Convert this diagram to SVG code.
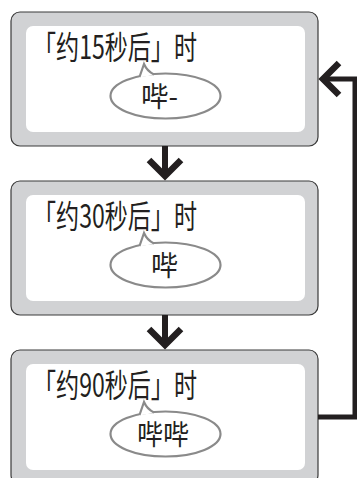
<svg xmlns="http://www.w3.org/2000/svg" width="357" height="478" viewBox="0 0 357 478">
<style>
.outer{fill:#d1d2d4;stroke:#3a3a3a;stroke-width:1.2}
.inner{fill:#ffffff}
.lbl{font-family:"Noto Sans CJK SC","Noto Sans",sans-serif;font-size:32px;fill:#231f20}
.snd{font-family:"Noto Sans CJK SC","Noto Sans",sans-serif;font-size:28px;fill:#231f20}
.bub{fill:#ffffff;stroke:#8a8a8a;stroke-width:2.2}
.conn{fill:none;stroke:#231f20;stroke-linejoin:miter;stroke-miterlimit:10}
</style>
<defs>
<g id="bubble">
<ellipse class="bub" cx="165.5" cy="96" rx="55" ry="22.5"/>
<path d="M139,77.5 L144,64 Q147,71 154,75" fill="#ffffff" stroke="none"/>
<path d="M139.5,77 L144,64 Q147,71 154,74.5" fill="none" stroke="#8a8a8a" stroke-width="2.2" stroke-linejoin="miter"/>
</g>
</defs>
<g id="node1">
<rect class="outer" x="11" y="12" width="307" height="134" rx="9"/>
<rect class="inner" x="26" y="26" width="279" height="106" rx="7"/>
<text class="lbl" x="33" y="59" textLength="164" lengthAdjust="spacingAndGlyphs">「约15秒后」时</text>
<use href="#bubble"/>
<text class="snd" x="141" y="107" textLength="37" lengthAdjust="spacingAndGlyphs">哔-</text>
</g>
<g id="node2">
<rect class="outer" x="11" y="181" width="307" height="134" rx="9"/>
<rect class="inner" x="26" y="195" width="279" height="106" rx="7"/>
<text class="lbl" x="33" y="228" textLength="164" lengthAdjust="spacingAndGlyphs">「约30秒后」时</text>
<use href="#bubble" transform="translate(0,169)"/>
<text class="snd" x="151" y="276" textLength="27" lengthAdjust="spacingAndGlyphs">哔</text>
</g>
<g id="node3">
<rect class="outer" x="11" y="350" width="307" height="134" rx="9"/>
<rect class="inner" x="26" y="364" width="279" height="106" rx="7"/>
<text class="lbl" x="33" y="397" textLength="164" lengthAdjust="spacingAndGlyphs">「约90秒后」时</text>
<use href="#bubble" transform="translate(0,338)"/>
<text class="snd" x="137" y="445" textLength="52" lengthAdjust="spacingAndGlyphs">哔哔</text>
</g>
<g id="connectors">
<line class="conn" x1="165" y1="146" x2="165" y2="175" stroke-width="6"/>
<path class="conn" d="M149,160 L165,176 L181,160" stroke-width="6.5"/>
<line class="conn" x1="165" y1="315" x2="165" y2="344" stroke-width="6"/>
<path class="conn" d="M149,329 L165,345 L181,329" stroke-width="6.5"/>
<path class="conn" d="M318,417 L355,417 L355,79 L324,79" stroke-width="5"/>
<path class="conn" d="M339,63 L323,79 L339,95" stroke-width="6.5"/>
</g>
</svg>
